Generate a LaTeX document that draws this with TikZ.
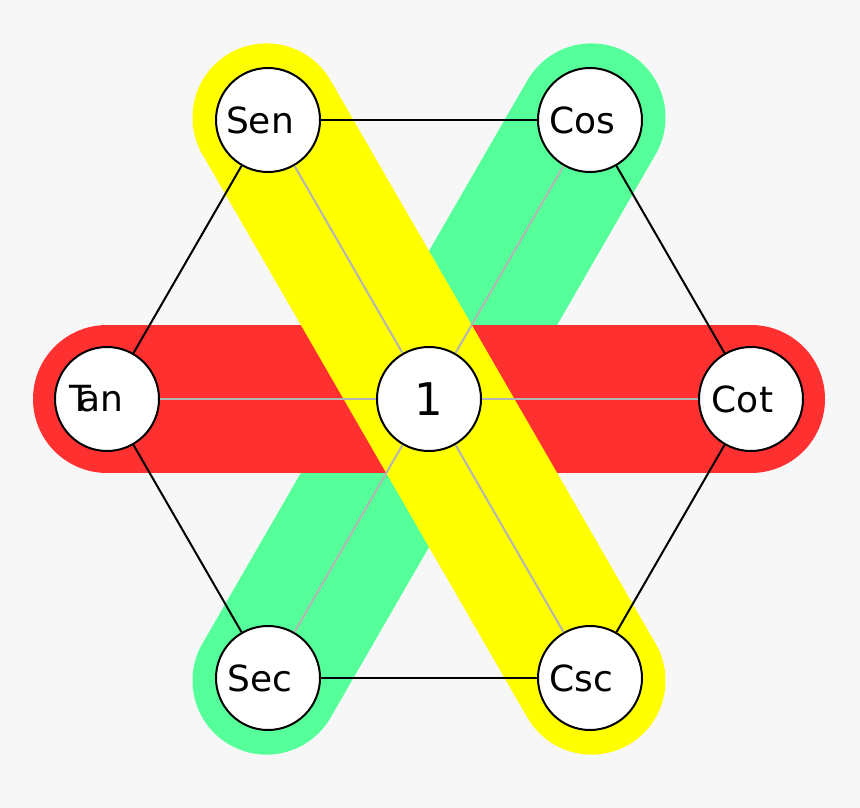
\documentclass[tikz,border=0pt]{standalone}
\usepackage{fontspec}
\setmainfont{DejaVu Sans}
\definecolor{fondo}{RGB}{247,247,247}
\definecolor{rojo}{RGB}{255,48,48}
\definecolor{verde}{RGB}{85,255,153}
\definecolor{amarillo}{RGB}{255,255,0}
\definecolor{gris}{RGB}{180,180,180}
\pgfdeclarelayer{capafondo}
\pgfdeclarelayer{capabandas}
\pgfsetlayers{capafondo,capabandas,main}

\begin{document}
\begin{tikzpicture}[
		x=1pt, y=-1pt,
		% Estilo de los circulos de cada razon
		circulo/.style = {draw, circle, fill=white, line width=2pt, minimum size=104pt, inner sep=0pt, font=\fontsize{36}{40}\selectfont},
		% Lados del hexagono y radios hacia el centro
		lado/.style = {draw=black, line width=2pt},
		radio/.style = {draw=gris, line width=2pt},
		% Bandas de colores
		banda/.style = {line width=148pt, line cap=round}
		]
		
		% --- FONDO ---
		\begin{pgfonlayer}{capafondo}
			\fill[fondo] (0,0) rectangle (860,808);
		\end{pgfonlayer}
		
		% --- NODOS DEL HEXAGONO ---
		\node [circulo, font=\fontsize{45}{50}\selectfont] (uno) at (429,399) {1};
		\node [circulo] (sen) at (268,120) {\hspace*{-16pt}Sen};
		\node [circulo] (cos) at (590,120) {\hspace*{-16pt}Cos};
		\node [circulo] (cot) at (751,399) {\hspace*{-17pt}Cot};
		\node [circulo] (csc) at (590,678) {\hspace*{-17pt}Csc};
		\node [circulo] (sec) at (268,678) {\hspace*{-16pt}Sec};
		\node [circulo] (tan) at (107,399) {\hspace*{-22pt}T\kern-0.36em an};
		
		% --- BANDAS (capa inferior) ---
		\begin{pgfonlayer}{capabandas}
			\draw [banda, verde, shorten <=-3pt, shorten >=-3pt] (cos.center) -- (sec.center);
			\draw [banda, rojo] (tan.center) -- (cot.center);
			\draw [banda, amarillo, shorten <=-3pt, shorten >=-3pt] (sen.center) -- (csc.center);
		\end{pgfonlayer}
		
		% --- LADOS ---
		\draw [lado] (sen) -- (cos);
		\draw [lado] (cos) -- (cot);
		\draw [lado] (cot) -- (csc);
		\draw [lado] (csc) -- (sec);
		\draw [lado] (sec) -- (tan);
		\draw [lado] (tan) -- (sen);
		
		% --- RADIOS ---
		\foreach \v in {sen, cos, cot, csc, sec, tan}
			\draw [radio] (uno) -- (\v);
		
	\end{tikzpicture}
\end{document}
